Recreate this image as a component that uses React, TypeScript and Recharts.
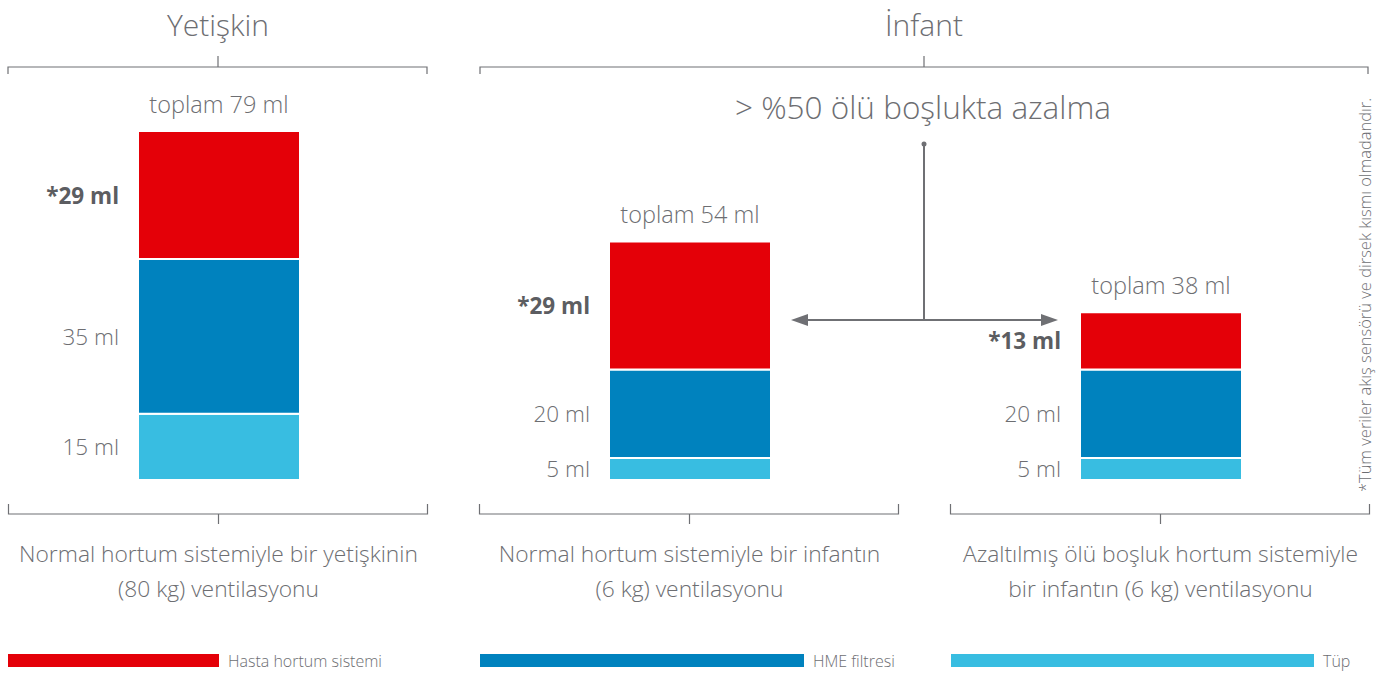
import React from 'react';
import { BarChart, Bar, XAxis, YAxis, LabelList } from 'recharts';

// dead space volumes per ventilation setup (ml)
const groups = ['adult', 'infantNormal', 'infantReduced'];
const tubeMl = [15, 5, 5];
const hmeMl = [35, 20, 20];
const circuitMl = [29, 29, 13];
const totalMl = [79, 54, 38];
const groupLines = [
  ['Normal hortum sistemiyle bir yetişkinin', '(80 kg) ventilasyonu'],
  ['Normal hortum sistemiyle bir infantın', '(6 kg) ventilasyonu'],
  ['Azaltılmış ölü boşluk hortum sistemiyle', 'bir infantın (6 kg) ventilasyonu'],
];
const legendNames = ['Hasta hortum sistemi', 'HME filtresi', 'Tüp'];

const RED = '#e40008';
const BLUE = '#0082be';
const LIGHT = '#38bde1';
const GREY = '#6d6e72';
const DARK = '#5c5d61';
const LINE = '#6f7074';
const FONT = '"Open Sans", "Noto Sans", sans-serif';

const data = groups.map((g, i) => ({
  group: g,
  tube: tubeMl[i],
  hme: hmeMl[i],
  circuit: circuitMl[i],
}));

const box = (props: any) => {
  const v = props.viewBox && props.viewBox.width != null ? props.viewBox : props;
  return { x: +v.x, y: +v.y, width: +v.width, height: +v.height };
};

const SegmentLabel = (bold: boolean) => (props: any) => {
  const { x, y, height } = box(props);
  return (
    <text
      x={x - 19}
      y={y + height / 2}
      textAnchor="end"
      dominantBaseline="central"
      fontSize={22.5}
      fontWeight={bold ? 700 : 300}
      fill={bold ? DARK : GREY}
      fontFamily={FONT}
    >
      {(bold ? '*' : '') + props.value + ' ml'}
    </text>
  );
};

const TotalLabel = (props: any) => {
  const { x, y, width } = box(props);
  return (
    <text
      x={x + width / 2}
      y={y - 27}
      textAnchor="middle"
      dominantBaseline="central"
      fontSize={23.5}
      fontWeight={300}
      fill={GREY}
      fontFamily={FONT}
    >
      {'toplam ' + totalMl[props.index] + ' ml'}
    </text>
  );
};

const GroupTick = (props: any) => {
  const { x, y, payload } = props;
  const idx = groups.indexOf(payload.value);
  const lines = groupLines[idx] || [];
  return (
    <g>
      <path
        d={`M${x - 210},${y + 24} V${y + 34} H${x + 209} V${y + 24}`}
        fill="none"
        stroke={LINE}
        strokeWidth={1.2}
      />
      <path d={`M${x},${y + 34} V${y + 44}`} stroke={LINE} strokeWidth={1.2} />
      {lines.map((l, i) => (
        <text
          key={i}
          x={x}
          y={y + 82 + i * 35}
          textAnchor="middle"
          fontSize={22.8}
          fontWeight={300}
          fill={GREY}
          fontFamily={FONT}
        >
          {l}
        </text>
      ))}
    </g>
  );
};

const legendColors = [RED, BLUE, LIGHT];
const legendBars = [
  { left: 8, width: 211, textLeft: 228 },
  { left: 480, width: 324, textLeft: 813 },
  { left: 951, width: 363, textLeft: 1323 },
];

export default function App() {
  return (
    <div
      style={{
        position: 'absolute',
        left: 0,
        top: 0,
        width: 1383,
        height: 673,
        overflow: 'hidden',
        background: '#fff',
        fontFamily: FONT,
      }}
    >
      <div style={{ position: 'absolute', left: -17, top: 0 }}>
        <BarChart
          width={1413}
          height={673}
          data={data}
          margin={{ top: 131, right: 0, left: 0, bottom: 73 }}
          barSize={162}
        >
          <XAxis
            dataKey="group"
            height={120}
            axisLine={false}
            tickLine={false}
            tickSize={0}
            tickMargin={0}
            interval={0}
            tick={<GroupTick />}
          />
          <YAxis hide domain={[0, 79]} />
          <Bar dataKey="tube" stackId="a" fill={LIGHT} stroke="#fff" strokeWidth={2} isAnimationActive={false}>
            <LabelList dataKey="tube" content={SegmentLabel(false)} />
          </Bar>
          <Bar dataKey="hme" stackId="a" fill={BLUE} stroke="#fff" strokeWidth={2} isAnimationActive={false}>
            <LabelList dataKey="hme" content={SegmentLabel(false)} />
          </Bar>
          <Bar dataKey="circuit" stackId="a" fill={RED} stroke="#fff" strokeWidth={2} isAnimationActive={false}>
            <LabelList dataKey="circuit" content={SegmentLabel(true)} />
            <LabelList dataKey="circuit" content={TotalLabel} />
          </Bar>
        </BarChart>
      </div>

      <svg
        width={1383}
        height={673}
        style={{ position: 'absolute', left: 0, top: 0, pointerEvents: 'none' }}
      >
        <text x={218} y={36} textAnchor="middle" fontSize={30} fontWeight={300} fill={GREY} fontFamily={FONT}>
          Yetişkin
        </text>
        <text x={924} y={36} textAnchor="middle" fontSize={30} fontWeight={300} fill={GREY} fontFamily={FONT}>
          İnfant
        </text>
        <path d="M8,74 V67 H427 V74 M218,67 V56" fill="none" stroke={LINE} strokeWidth={1.2} />
        <path d="M480,74 V67 H1368 V74 M924,67 V56" fill="none" stroke={LINE} strokeWidth={1.2} />

        <text x={923} y={119} textAnchor="middle" fontSize={31.5} fontWeight={300} fill={GREY} fontFamily={FONT}>
          {'> %50 ölü boşlukta azalma'}
        </text>
        <circle cx={924} cy={144} r={2.5} fill={LINE} />
        <path d="M924,144 V320 M805,320 H1045" fill="none" stroke={LINE} strokeWidth={2} />
        <polygon points="791,320 808,314 808,326" fill={LINE} />
        <polygon points="1058,320 1041,314 1041,326" fill={LINE} />

        <text
          x={1364}
          y={295}
          transform="rotate(-90, 1364, 295)"
          textAnchor="middle"
          dominantBaseline="central"
          fontSize={16.5}
          fontWeight={300}
          fill={GREY}
          fontFamily={FONT}
        >
          *Tüm veriler akış sensörü ve dirsek kısmı olmadandır.
        </text>
      </svg>

      {legendNames.map((name, i) => (
        <React.Fragment key={name}>
          <div
            style={{
              position: 'absolute',
              left: legendBars[i].left,
              top: 654,
              width: legendBars[i].width,
              height: 13,
              background: legendColors[i],
            }}
          />
          <div
            style={{
              position: 'absolute',
              left: legendBars[i].textLeft,
              top: 650,
              fontSize: 16,
              lineHeight: '22px',
              fontWeight: 300,
              color: GREY,
              whiteSpace: 'nowrap',
            }}
          >
            {name}
          </div>
        </React.Fragment>
      ))}
    </div>
  );
}
